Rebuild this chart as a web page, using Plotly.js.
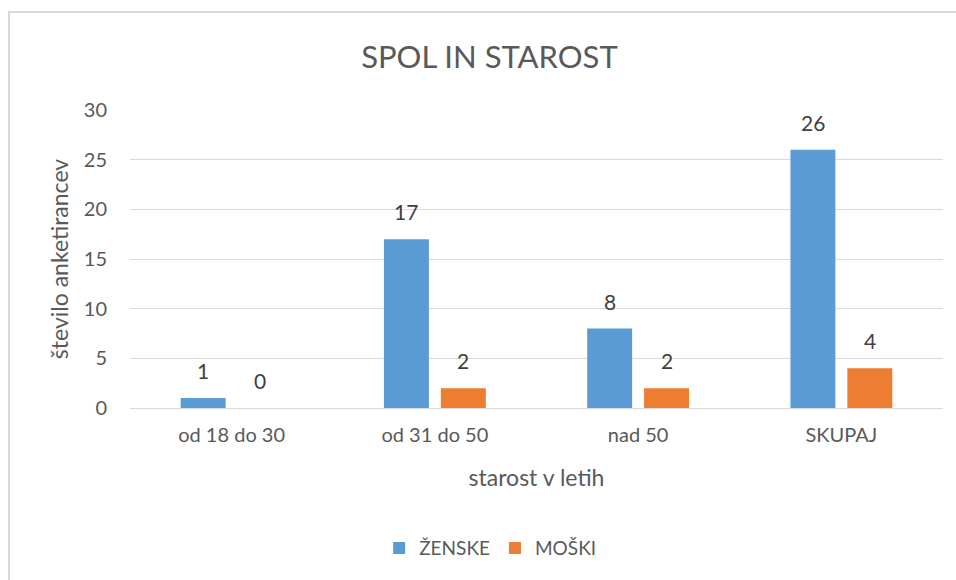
<!DOCTYPE html>
<html>
<head>
<meta charset="utf-8">
<script src="https://cdn.plot.ly/plotly-3.0.1.min.js"></script>
<style>
  body { margin: 0; background: #fff; }
  #chart { position: absolute; left: 0; top: 0; width: 956px; height: 580px; }
  #frame { position: absolute; left: 8px; top: 11px; width: 960px; height: 600px;
           border-left: 2px solid #d9d9d9; border-top: 2px solid #d9d9d9; pointer-events: none; }
</style>
</head>
<body>
<div id="chart"></div>
<div id="frame"></div>
<script>
/* Data */
var categories = ['od 18 do 30', 'od 31 do 50', 'nad 50', 'SKUPAJ'];
var zenske = [1, 17, 8, 26];
var moski = [0, 2, 2, 4];

var font = 'Lato, "Open Sans", sans-serif';
var grey = '#595959';

var trace1 = {
  x: categories,
  y: zenske,
  name: 'ŽENSKE',
  type: 'bar',
  marker: {color: '#5B9BD5'}
};
var trace2 = {
  x: categories,
  y: moski,
  name: 'MOŠKI',
  type: 'bar',
  marker: {color: '#ED7D31'}
};

/* value labels above the bars */
var annotations = [];
categories.forEach(function (c, i) {
  [[zenske, -28.5], [moski, 28.5]].forEach(function (s) {
    annotations.push({
      x: c, y: s[0][i], text: String(s[0][i]),
      xref: 'x', yref: 'y', showarrow: false,
      xshift: s[1], yshift: 13, yanchor: 'bottom',
      font: {family: font, size: 21, color: '#404040'}
    });
  });
});

var layout = {
  width: 956,
  height: 580,
  margin: {l: 130, r: 13, t: 110, b: 172},
  paper_bgcolor: 'rgba(0,0,0,0)',
  plot_bgcolor: '#fff',
  font: {family: font, color: grey},
  title: {
    text: 'SPOL IN STAROST',
    font: {family: font, size: 31, color: grey},
    xref: 'container', x: 0.512, y: 0.902, yanchor: 'middle'
  },
  barmode: 'group',
  bargap: 0.44,
  bargroupgap: 0.21,
  xaxis: {
    title: {text: 'starost v letih', font: {size: 23, color: grey}, standoff: 24},
    tickfont: {size: 20, color: grey},
    ticklabelstandoff: 13,
    showline: false,
    zeroline: false
  },
  yaxis: {
    title: {text: 'število anketirancev', font: {size: 23, color: grey}, standoff: 8},
    range: [0, 30],
    dtick: 5,
    tickfont: {size: 20, color: grey},
    ticklabelstandoff: 22,
    gridcolor: '#d9d9d9',
    zerolinecolor: '#d9d9d9',
    showline: false
  },
  legend: {
    orientation: 'h',
    x: 0.443, xanchor: 'center',
    y: -0.47, yanchor: 'middle',
    font: {size: 19, color: grey}
  },
  annotations: annotations
};

Plotly.newPlot('chart', [trace1, trace2], layout, {staticPlot: true});
</script>
</body>
</html>
